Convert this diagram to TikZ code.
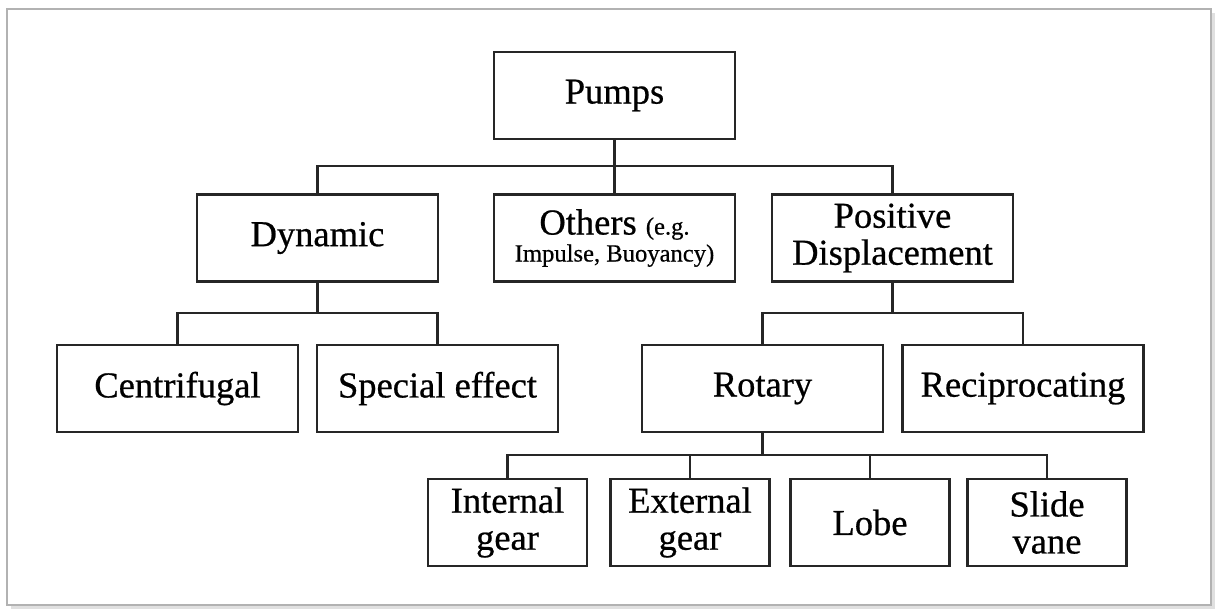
\documentclass[tikz,border=0pt]{standalone}
\usepackage{fontspec}
\setmainfont{Liberation Serif}[FakeBold=0.6]
\begin{document}
\begin{tikzpicture}[x=0.5pt,y=-0.5pt,
  box/.style={draw=black!85, line width=1.2pt, rectangle, minimum width=120.5pt,
    minimum height=43.5pt, inner sep=0pt, align=center,
    font=\fontsize{18.25}{18.5}\selectfont},
  smallbox/.style={box, minimum width=79.5pt},
  conn/.style={draw=black!85, line width=1.2pt}]
\useasboundingbox (0,0) rectangle (1215,609);
% frame with shadow
\fill[white] (0,0) rectangle (1215,609);
\fill[black!12] (1211,13) rectangle (1215,609);
\fill[black!12] (11,605) rectangle (1215,609);
\draw[black!30, line width=0.9pt] (7,9) rectangle (1211,605);
% nodes
\node[box] (pumps) at (614.5,95.5) {Pumps};
\node[box] (oth) at (614.5,238) {Others {\fontsize{12.3}{13}\selectfont(e.g.}\\[-5pt]{\fontsize{12.3}{13}\selectfont Impulse, Buoyancy)}};
\node[box] (dyn) at (317.5,238) {Dynamic};
\node[box] (pd) at (892.5,238) {Positive\\Displacement};
\node[box] (cen) at (177.5,388.5) {Centrifugal};
\node[box] (spe) at (437.5,388.5) {Special effect};
\node[box] (rot) at (762.5,388.5) {Rotary};
\node[box] (rec) at (1023,388.5) {Reciprocating};
\node[smallbox] (ig) at (507.5,522.5) {Internal\\gear};
\node[smallbox] (eg) at (690,522.5) {External\\gear};
\node[smallbox] (lobe) at (870,522.5) {Lobe};
\node[smallbox] (sv) at (1047,522.5) {Slide\\vane};
% junctions
\coordinate (j1) at (614.5,166);
\coordinate (j2) at (317.5,313);
\coordinate (j3) at (892.5,313);
\coordinate (j4) at (762.5,455);
% connectors
\draw[conn] (pumps.south) -- (j1);
\draw[conn] (dyn.north) |- (j1) -| (pd.north);
\draw[conn] (j1) -- (oth.north);
\draw[conn] (dyn.south) -- (j2);
\draw[conn] (cen.north) |- (j2) -| (spe.north);
\draw[conn] (pd.south) -- (j3);
\draw[conn] (rot.north) |- (j3) -| (rec.north);
\draw[conn] (rot.south) -- (j4);
\draw[conn] (ig.north) |- (j4) -| (sv.north);
\draw[conn] (eg.north) |- (j4);
\draw[conn] (lobe.north) |- (j4);
\end{tikzpicture}
\end{document}
